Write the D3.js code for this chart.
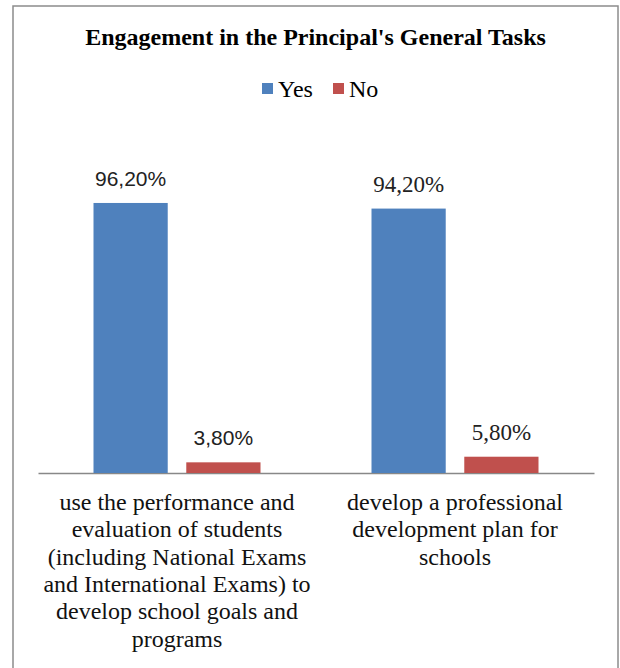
<!DOCTYPE html>
<html>
<head>
<meta charset="utf-8">
<script src="https://cdn.jsdelivr.net/npm/d3@7"></script>
<style>
  body { margin: 0; background: #fff; }
</style>
</head>
<body>
<div id="chart"></div>
<script>
			//Width and height
			var w = 620;
			var h = 668;

			//Data
			var title = "Engagement in the Principal's General Tasks";
			var seriesNames = ["Yes", "No"];
			var categories = ["performance", "development"];
			// wrapped tick labels, one array per category
			var categoryLines = [
				["use the performance and", "evaluation of students", "(including National Exams", "and International Exams) to", "develop school goals and", "programs"],
				["develop a professional", "development plan for", "schools"]
			];
			var yesValues = [96.2, 94.2];
			var noValues = [3.8, 5.8];
			var valueLabels = [["96,20%", "3,80%"], ["94,20%", "5,80%"]];

			var colors = d3.scaleOrdinal()
				.domain(seriesNames)
				.range(["#4F81BD", "#C0504D"]);

			var dataset = categories.map(function(c, i) {
				return { c: c, Yes: yesValues[i], No: noValues[i], labels: valueLabels[i], lines: categoryLines[i] };
			});

			var serif = "'Liberation Serif', 'Times New Roman', serif";

			//Scales
			var x0 = d3.scaleBand()
				.domain(categories)
				.range([38, 594])
				.paddingInner(0)
				.paddingOuter(0);

			var x1 = d3.scaleBand()
				.domain(seriesNames)
				.range([55.5, x0.bandwidth() - 55.5])
				.paddingInner(0.2);

			var yScale = d3.scaleLinear()
				.domain([0, 100])
				.range([473, 192.3]);

			var svg = d3.select("#chart")
				.append("svg")
				.attr("width", w)
				.attr("height", h);

			//chart frame
			svg.append("rect")
				.attr("x", 13)
				.attr("y", 6)
				.attr("width", 605)
				.attr("height", 680)
				.attr("fill", "#fff")
				.attr("stroke", "#8c8c8c")
				.attr("stroke-width", 1.5);

			//title
			svg.append("text")
				.attr("x", 315.5)
				.attr("y", 45)
				.attr("text-anchor", "middle")
				.style("font-family", serif)
				.style("font-weight", "bold")
				.style("font-size", "24px")
				.attr("fill", "#000")
				.text(title);

			//legend
			var legendX = [262, 333];
			var legend = svg.append("g").attr("class", "legend");
			var li = legend.selectAll("g")
				.data(seriesNames)
				.enter()
				.append("g")
				.attr("transform", function(d, i) { return "translate(" + legendX[i] + ",83)"; });
			li.append("rect")
				.attr("width", 11)
				.attr("height", 11)
				.attr("fill", function(d) { return colors(d); });
			li.append("text")
				.attr("x", 16)
				.attr("y", 14)
				.style("font-family", serif)
				.style("font-size", "24px")
				.text(function(d) { return d; });

			//x axis
			var xAxis = d3.axisBottom(x0).tickSize(0).tickFormat("");
			var ax = svg.append("g")
				.attr("class", "x axis")
				.attr("transform", "translate(0,473)")
				.call(xAxis);
			ax.select(".domain").attr("stroke", "#888").attr("stroke-width", 1.5);

			// add groups for bars
			var groups = svg.selectAll("g.cat")
				.data(dataset)
				.enter()
				.append("g")
				.attr("class", "cat")
				.attr("transform", function(d) { return "translate(" + x0(d.c) + ",0)"; });

			groups.selectAll("rect")
				.data(function(d) { return seriesNames.map(function(k) { return { key: k, value: d[k] }; }); })
				.enter()
				.append("rect")
				.attr("x", function(d) { return x1(d.key); })
				.attr("y", function(d) { return yScale(d.value); })
				.attr("width", x1.bandwidth())
				.attr("height", function(d) { return yScale(0) - yScale(d.value); })
				.attr("fill", function(d) { return colors(d.key); });

			// data labels: first group sans, second group serif (as in source)
			groups.each(function(d, ci) {
				d3.select(this).selectAll("text.val")
					.data(seriesNames)
					.enter()
					.append("text")
					.attr("class", "val")
					.attr("x", function(k) { return x1(k) + x1.bandwidth() / 2; })
					.attr("y", function(k) { return yScale(d[k]) - 17; })
					.attr("text-anchor", "middle")
					.style("font-family", ci === 0 ? "'Liberation Sans', Arial, sans-serif" : serif)
					.style("font-size", ci === 0 ? "21px" : "23px")
					.attr("fill", "#222")
					.text(function(k, i) { return d.labels[i]; });
			});

			// category labels
			groups.append("text")
				.attr("class", "cat-label")
				.attr("text-anchor", "middle")
				.style("font-family", serif)
				.style("font-size", "24px")
				.attr("fill", "#111")
				.selectAll("tspan")
				.data(function(d) { return d.lines; })
				.enter()
				.append("tspan")
				.attr("x", x0.bandwidth() / 2)
				.attr("y", function(d, i) { return 510 + i * 27.3; })
				.text(function(d) { return d; });
</script>
</body>
</html>
